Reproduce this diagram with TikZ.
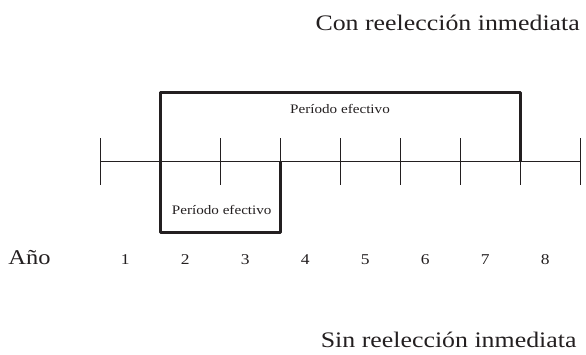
\documentclass[tikz,border=0pt]{standalone}
\usepackage{fontspec}
\setmainfont{Liberation Serif}[FakeStretch=1.165]
\definecolor{ink}{HTML}{231F20}
\begin{document}
\begin{tikzpicture}[x=1pt,y=-1pt,
  axisline/.style={draw=ink,line width=1.3pt},
  periodline/.style={draw=ink,line width=2.6pt,line join=round},
  txt/.style={inner sep=0pt,text=ink},
  titletxt/.style={txt,font=\fontsize{22.2}{26}\selectfont,anchor=base east},
  yeartxt/.style={txt,font=\fontsize{21}{25}\selectfont,anchor=base west},
  numtxt/.style={txt,font=\fontsize{15}{18}\selectfont,anchor=base},
  periodtxt/.style={txt,font=\fontsize{13}{16}\selectfont,anchor=base}]
\useasboundingbox (0,0) rectangle (586,355);
% axis and ticks
\foreach \i in {0,...,8} \coordinate (t\i) at ({100.7+60*\i},161.7);
\draw[axisline] (t0) -- (t8);
\foreach \i in {0,...,8} \draw[axisline] ([yshift=23.5pt]t\i) -- ([yshift=-23.5pt]t\i);
% period boxes
\coordinate (ul) at (160.7,92.7);
\coordinate (ur) at (520.7,92.7);
\coordinate (ll) at (160.7,232.3);
\coordinate (lr) at (280.7,232.3);
\draw[periodline] (t7) -- (ur) -- (ul) -- (ll) -- (lr) -- (t3);
\node[periodtxt] (p1) at (340,114) {Período efectivo};
\node[periodtxt] (p2) at (221.7,214.5) {Período efectivo};
% years
\node[yeartxt] (ano) at (8.3,265) {Año};
\foreach \i in {1,...,8} \node[numtxt] (y\i) at ({125.3+60*(\i-1)},265) {\i};
% titles
\node[titletxt] (con) at (580,30.7) {Con reelección inmediata};
\node[titletxt] (sin) at (576.7,347.3) {Sin reelección inmediata};
\end{tikzpicture}
\end{document}
